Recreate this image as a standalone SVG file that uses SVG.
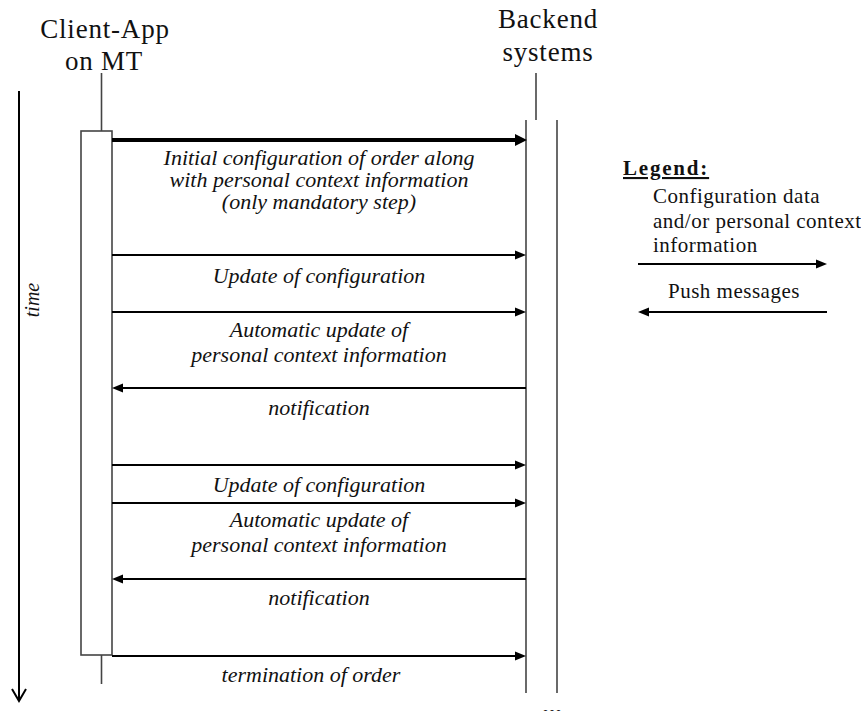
<svg xmlns="http://www.w3.org/2000/svg" width="861" height="711" viewBox="0 0 861 711">
<style>
.hdr{font-family:"Liberation Serif","Times New Roman",serif;font-size:27px;letter-spacing:0.8px;fill:#111;text-anchor:middle}
.lbl{font-family:"Liberation Serif","Times New Roman",serif;font-size:22px;font-style:italic;fill:#111;text-anchor:middle}
.leg{font-family:"Liberation Serif","Times New Roman",serif;font-size:21px;letter-spacing:0.5px;fill:#111}
.life{stroke:#444;stroke-width:1.6;fill:none}
.msg{stroke:#000;stroke-width:2.2;fill:none;marker-end:url(#ah)}
.msgb{stroke:#000;stroke-width:4;fill:none;marker-end:url(#ahb)}
</style>
<defs>
<marker id="ah" markerUnits="userSpaceOnUse" markerWidth="12" markerHeight="10" refX="5" refY="4.5" orient="auto" overflow="visible">
<path d="M0,0 L11,4.5 L0,9 z" fill="#000"/>
</marker>
<marker id="ahb" markerUnits="userSpaceOnUse" markerWidth="13" markerHeight="13" refX="5" refY="6" orient="auto" overflow="visible">
<path d="M0,0 L12,6 L0,12 z" fill="#000"/>
</marker>
</defs>
<rect width="861" height="711" fill="#fff"/>

<g id="time-axis">
<line x1="19" y1="91" x2="19" y2="701" stroke="#000" stroke-width="2"/>
<polyline points="12,689 19,701 26,689" fill="none" stroke="#000" stroke-width="2"/>
<text class="lbl" style="font-size:20px" transform="translate(39,300) rotate(-90)">time</text>
</g>

<g id="client-app">
<text class="hdr" x="105" y="38">Client-App</text>
<text class="hdr" x="104" y="70">on MT</text>
<line class="life" x1="101.5" y1="73" x2="101.5" y2="131"/>
<rect class="life" x="81" y="131" width="31" height="524" fill="#fff"/>
<line class="life" x1="101.5" y1="655" x2="101.5" y2="684"/>
</g>

<g id="backend">
<text class="hdr" x="548" y="28">Backend</text>
<text class="hdr" x="548" y="61">systems</text>
<line class="life" x1="536" y1="73" x2="536" y2="120"/>
<line class="life" x1="526" y1="120" x2="526" y2="693"/>
<line class="life" x1="557" y1="120" x2="557" y2="693"/>
<text x="552" y="714" font-family="Liberation Serif, serif" font-size="26" font-weight="bold" text-anchor="middle" fill="#111">...</text>
</g>

<g id="connectors">
<line class="msgb" x1="112" y1="140" x2="520" y2="140"/>
<line class="msg" x1="112" y1="255" x2="520" y2="255"/>
<line class="msg" x1="112" y1="312" x2="520" y2="312"/>
<line class="msg" x1="526" y1="388" x2="118" y2="388"/>
<line class="msg" x1="112" y1="465" x2="520" y2="465"/>
<line class="msg" x1="112" y1="503" x2="520" y2="503"/>
<line class="msg" x1="526" y1="579" x2="118" y2="579"/>
<line class="msg" x1="112" y1="656" x2="520" y2="656"/>
</g>

<g id="labels">
<text class="lbl" x="319" y="165">Initial configuration of order along</text>
<text class="lbl" x="319" y="187">with personal context information</text>
<text class="lbl" x="319" y="209">(only mandatory step)</text>
<text class="lbl" x="319" y="283">Update of configuration</text>
<text class="lbl" x="319" y="337">Automatic update of</text>
<text class="lbl" x="319" y="362">personal context information</text>
<text class="lbl" x="319" y="415">notification</text>
<text class="lbl" x="319" y="492">Update of configuration</text>
<text class="lbl" x="319" y="527">Automatic update of</text>
<text class="lbl" x="319" y="552">personal context information</text>
<text class="lbl" x="319" y="605">notification</text>
<text class="lbl" x="311" y="682">termination of order</text>
</g>

<g id="legend">
<text x="623" y="175" font-family="Liberation Serif, serif" font-size="21" font-weight="bold" letter-spacing="1.8" text-decoration="underline" fill="#111">Legend:</text>
<text class="leg" x="653" y="203">Configuration data</text>
<text class="leg" x="653" y="228">and/or personal context</text>
<text class="leg" x="653" y="252">information</text>
<line class="msg" x1="638" y1="264" x2="821" y2="264"/>
<text class="leg" x="668" y="298">Push messages</text>
<line class="msg" x1="827" y1="312" x2="644" y2="312"/>
</g>
</svg>
